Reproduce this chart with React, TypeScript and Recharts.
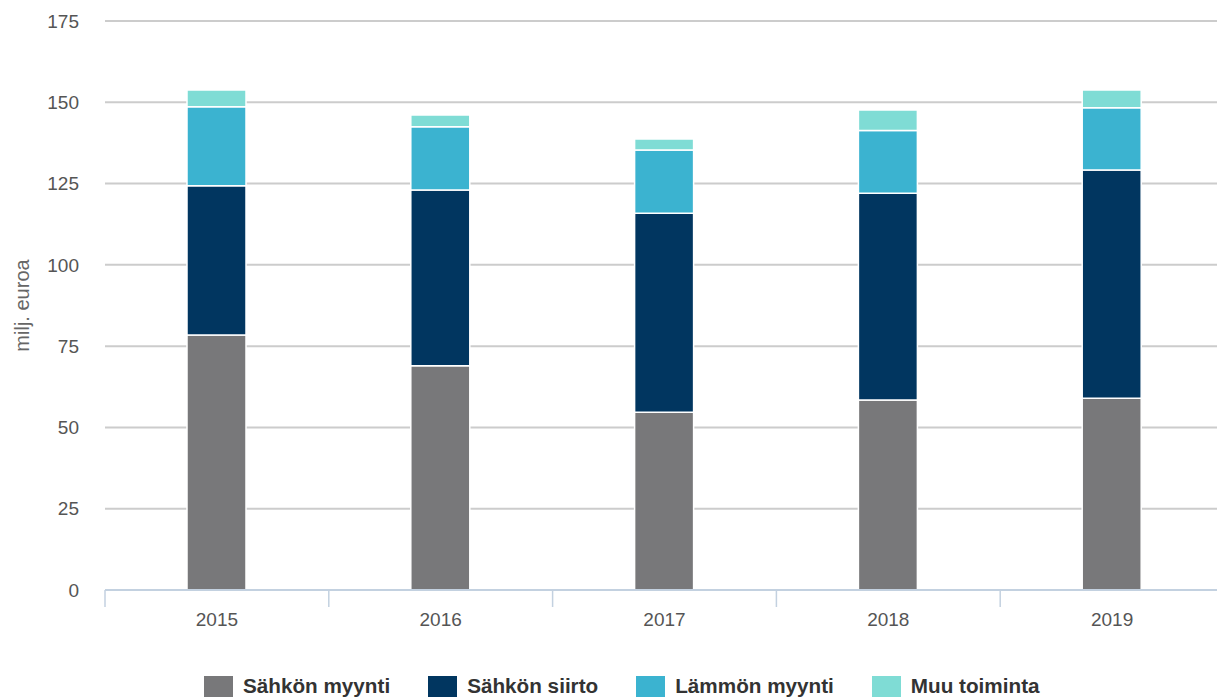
import { Bar, BarChart, CartesianGrid, Legend, XAxis, YAxis } from "recharts";

const years = ["2015", "2016", "2017", "2018", "2019"];
const sahkonMyynti = [78.4, 69.0, 54.7, 58.4, 59.0];
const sahkonSiirto = [45.9, 54.0, 61.2, 63.6, 70.2];
const lammonMyynti = [24.3, 19.5, 19.4, 19.3, 19.1];
const muuToiminta = [5.2, 3.6, 3.4, 6.3, 5.5];
const yTicks = [0, 25, 50, 75, 100, 125, 150, 175];

const series = [
  { key: "sahkonMyynti", name: "Sähkön myynti", color: "#78787a" },
  { key: "sahkonSiirto", name: "Sähkön siirto", color: "#013660" },
  { key: "lammonMyynti", name: "Lämmön myynti", color: "#3bb3d0" },
  { key: "muuToiminta", name: "Muu toiminta", color: "#7fdcd5" },
];

const data = years.map((year, i) => ({
  year,
  sahkonMyynti: sahkonMyynti[i],
  sahkonSiirto: sahkonSiirto[i],
  lammonMyynti: lammonMyynti[i],
  muuToiminta: muuToiminta[i],
}));

const CHART_W = 1240;
const CHART_H = 700;
const MARGIN = { top: 21, right: 16, bottom: 20, left: 45 };
const Y_AXIS_W = 60;
const PLOT_W = CHART_W - MARGIN.left - MARGIN.right - Y_AXIS_W;
const BAND = PLOT_W / years.length;
const FONT = "'Liberation Sans', Arial, sans-serif";

function YearTick(props: any) {
  const { x, y, payload } = props;
  const bx = x - BAND / 2;
  return (
    <g>
      <line x1={bx} y1={y} x2={bx} y2={y + 17} stroke="#c3d1e0" strokeWidth={1.5} />
      <text x={x} y={y + 36} textAnchor="middle" fill="#555" fontSize={19} fontFamily={FONT}>
        {payload.value}
      </text>
    </g>
  );
}

function ChartLegend() {
  return (
    <div
      style={{
        display: "flex",
        alignItems: "center",
        paddingLeft: 204,
        height: 40,
        fontFamily: FONT,
        fontWeight: "bold",
        fontSize: 20.7,
        color: "#333",
      }}
    >
      {series.map((s) => (
        <div key={s.key} style={{ display: "flex", alignItems: "center", marginRight: 38 }}>
          <span style={{ width: 29, height: 21, background: s.color, display: "inline-block", marginRight: 10 }} />
          <span>{s.name}</span>
        </div>
      ))}
    </div>
  );
}

export default function App() {
  return (
    <div style={{ position: "absolute", left: 0, top: 0, width: 1217, height: 700, overflow: "hidden", background: "#fff" }}>
      <BarChart width={CHART_W} height={CHART_H} data={data} margin={MARGIN}>
        <CartesianGrid vertical={false} stroke="#cccccc" strokeWidth={2} />
        <XAxis
          dataKey="year"
          height={50}
          tickLine={false}
          tickSize={0}
          tickMargin={0}
          axisLine={{ stroke: "#c3d1e0", strokeWidth: 2 }}
          tick={<YearTick />}
          interval={0}
        />
        <YAxis
          width={Y_AXIS_W}
          domain={[0, 175]}
          ticks={yTicks}
          axisLine={false}
          tickLine={false}
          tickSize={6}
          tickMargin={20}
          tick={{ fill: "#555", fontSize: 19, fontFamily: FONT }}
          label={{
            value: "milj. euroa",
            angle: -90,
            position: "insideLeft",
            offset: -23,
            style: { textAnchor: "middle", fill: "#666", fontSize: 20, fontFamily: FONT },
          }}
        />
        <Legend
          verticalAlign="bottom"
          content={<ChartLegend />}
          wrapperStyle={{ left: 0, top: 666, width: CHART_W, bottom: "auto" }}
        />
        {series.map((s) => (
          <Bar
            key={s.key}
            dataKey={s.key}
            name={s.name}
            stackId="a"
            fill={s.color}
            stroke="#ffffff"
            strokeWidth={1.5}
            barSize={59}
            isAnimationActive={false}
          />
        ))}
      </BarChart>
    </div>
  );
}
